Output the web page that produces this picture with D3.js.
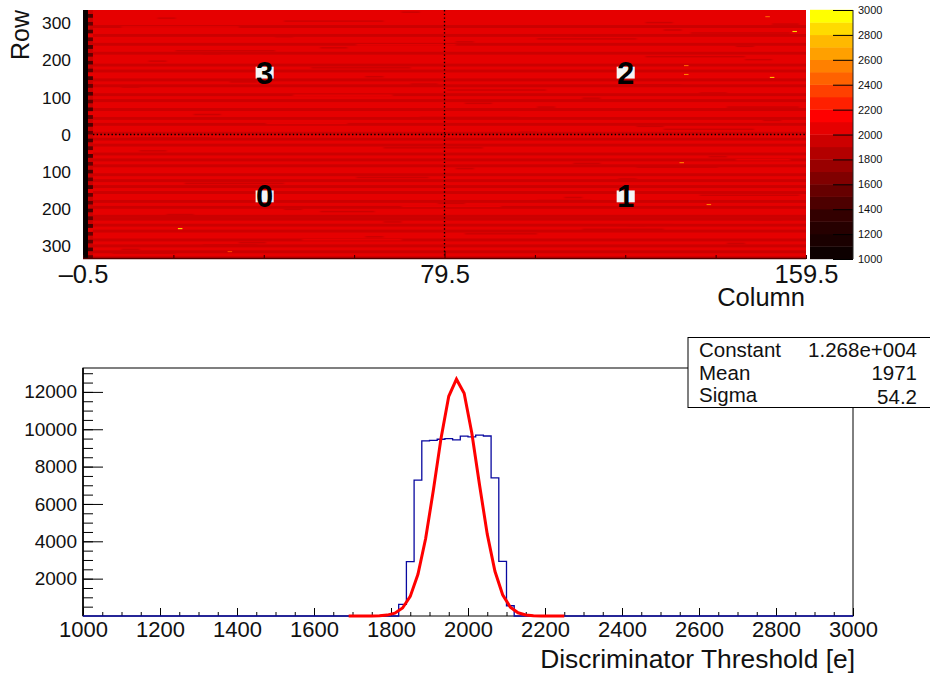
<!DOCTYPE html>
<html>
<head>
<meta charset="utf-8">
<script src="https://cdn.jsdelivr.net/npm/d3@7"></script>
<style>
  body { margin: 0; background: #fff; }
  text { font-family: "Liberation Sans", Arial, sans-serif; fill: #111; }
  .domain { display: none; }
</style>
</head>
<body>
<div id="chart"></div>
<script>
// threshold map: one value per 8 row band, bottom to top
const rowValues = [
  1960, 2010, 1940, 2040, 1980, 2020, 1930, 2060, 2000, 1950, 2030, 1970,
  2050, 1990, 1920, 2020, 2070, 1960, 2010, 1940, 2040, 2000, 1970, 2060,
  1930, 2020, 1990, 2050, 1950, 2030, 2010, 1960, 2070, 1980, 2040, 1930,
  2020, 2000, 1950, 2060, 1990, 2030, 1960, 2050, 2010, 1940, 2080, 1980,
  2030, 2000, 1950, 2060, 2020, 1970, 2040, 1930, 2070, 2010, 1990, 2050,
  1960, 2030, 2090, 1980, 2020, 1950, 2060, 2000, 2040, 1970, 2080, 2010,
  1950, 2050, 2030, 1990, 2070, 2020, 1960, 2060, 2040, 2010, 2050, 2050
];

// darker and brighter streaks seen across the map: first col, last col, row, value
const streaks = [
  [6, 20, -322, 1920], [26, 38, -300, 1930], [48, 70, -286, 2050], [84, 100, -270, 1910],
  [110, 128, -258, 1920], [130, 150, -240, 2060], [12, 30, -226, 1930], [52, 64, -210, 1920],
  [70, 92, -196, 2050], [100, 112, -180, 1910], [136, 158, -166, 1920], [4, 16, -150, 2050],
  [22, 44, -134, 1920], [60, 76, -118, 1930], [90, 116, -102, 2060], [122, 140, -90, 1920],
  [144, 156, -70, 2050], [30, 54, -54, 1910], [66, 88, -38, 1930], [104, 120, -22, 2050],
  [10, 28, -12, 1920], [128, 148, 12, 1930], [40, 58, 28, 2050], [74, 96, 44, 1920],
  [112, 134, 58, 2060], [142, 158, 72, 1910], [16, 36, 88, 1930], [46, 68, 104, 2050],
  [80, 102, 118, 1920], [118, 132, 132, 1910], [136, 152, 146, 1930], [6, 24, 162, 2050],
  [50, 72, 178, 1920], [90, 106, 194, 2050], [124, 146, 208, 1920], [20, 42, 224, 1930],
  [60, 82, 240, 2060], [100, 122, 256, 1920], [134, 156, 272, 1910], [8, 34, 288, 2060],
  [44, 66, 304, 1930], [76, 98, 318, 2060], [112, 130, 326, 2050],
  [8, 12, -312, 1905], [34, 40, -294, 1910], [62, 66, -278, 1905], [94, 100, -262, 1910],
  [120, 124, -248, 1905], [148, 154, -232, 1910], [18, 24, -218, 1905], [44, 48, -204, 1910],
  [78, 84, -188, 1905], [106, 110, -172, 1910], [130, 136, -158, 1905], [152, 156, -144, 1910],
  [28, 32, -126, 1905], [54, 60, -110, 1910], [82, 86, -94, 1905], [108, 114, -80, 1910],
  [138, 142, -62, 1905], [12, 18, -46, 1910], [40, 44, -30, 1905], [70, 76, -14, 1910],
  [96, 100, 4, 1905], [122, 128, 20, 1910], [150, 154, 36, 1905], [24, 30, 52, 1910],
  [56, 60, 66, 1905], [84, 90, 82, 1910], [110, 114, 96, 1905], [136, 142, 110, 1910],
  [8, 12, 126, 1905], [32, 38, 140, 1910], [62, 66, 154, 1905], [94, 100, 170, 1910],
  [116, 120, 186, 1905], [146, 152, 200, 1910], [26, 30, 216, 1905], [52, 58, 232, 1910],
  [82, 86, 248, 1905], [108, 114, 264, 1910], [128, 132, 280, 1905], [152, 158, 296, 1910],
  [16, 20, 312, 1905], [70, 74, 328, 1910], [124, 130, 300, 1905], [42, 46, 262, 1910],
  [144, 148, 236, 1905], [14, 18, 196, 1910], [72, 78, 134, 1905], [100, 104, 72, 1910],
  [48, 52, -72, 1905], [118, 122, -122, 1910], [66, 70, -238, 1905], [142, 146, -296, 1910]
];

// striped column next to the dead one, 64 stripes bottom to top
const edgeValues = [
  1500, 1980, 1450, 1990, 1500, 1960, 1520, 2000, 1480, 1970, 1500, 1990, 1460, 1980, 1520, 1960,
  1500, 2000, 1470, 1980, 1510, 1970, 1490, 1990, 1500, 1960, 1460, 2000, 1520, 1980, 1480, 1970,
  1500, 1990, 1470, 1960, 1510, 2000, 1490, 1980, 1500, 1970, 1460, 1990, 1520, 1960, 1480, 2000,
  1500, 1980, 1470, 1970, 1510, 1990, 1490, 1960, 1500, 2000, 1460, 1980, 1520, 1970, 1480, 1990
];

// noisy single pixels: col, row, value
const hotPixels = [
  [21, -254, 2800], [32, -316, 2300], [151, 318, 2400], [157, 278, 2800], [152, 154, 2700],
  [133, 186, 2400], [133, 162, 2500], [132, -76, 2500], [138, -189, 2500]
];

// chip labels: name, col, row
const chips = [
  ["3", 39.7, 167], ["2", 119.6, 167], ["0", 39.7, -167], ["1", 119.6, -167]
];

const palette = [
  "#0d0000", "#1a0000", "#260000", "#330000", "#4d0000", "#660000", "#800000", "#990000", "#b30000", "#cc0000",
  "#e60000", "#ff0000", "#ff2000", "#ff4000", "#ff6200", "#ff8000", "#ffa000", "#ffb900", "#ffdb00", "#ffff00"
];

const colTicks = [-0.5, 19.5, 39.5, 59.5, 79.5, 99.5, 119.5, 139.5, 159.5];
const colLabels = [-0.5, 79.5, 159.5];
const rowTicks = [-300, -200, -100, 0, 100, 200, 300];
const barTicks = [1000, 1200, 1400, 1600, 1800, 2000, 2200, 2400, 2600, 2800, 3000];

// threshold distribution, 20 wide bins from 1000 to 3000
const histCounts = [
  0, 0, 0, 0, 0, 0, 0, 0, 0, 0, 0, 0, 0, 0, 0, 0, 0, 0, 0, 0,
  0, 0, 0, 0, 0, 0, 0, 0, 0, 0, 0, 0, 0, 0, 0, 0, 0, 0, 0, 0,
  0, 620, 2910, 7280, 9373, 9400, 9465, 9500, 9430, 9630, 9595, 9685, 9640, 7400, 2930, 550, 0, 0, 0, 0,
  0, 0, 0, 0, 0, 0, 0, 0, 0, 0, 0, 0, 0, 0, 0, 0, 0, 0, 0, 0,
  0, 0, 0, 0, 0, 0, 0, 0, 0, 0, 0, 0, 0, 0, 0, 0, 0, 0, 0, 0
];

// fitted curve as drawn
const fitX = [
  1690, 1710, 1730, 1750, 1770, 1790, 1810, 1830, 1850, 1870, 1890, 1910, 1930, 1950,
  1970, 1990, 2010, 2030, 2050, 2070, 2090, 2110, 2130, 2150, 2170, 2190, 2210, 2230, 2250
];
const fitY = [
  0, 0, 1, 3, 13, 48, 154, 430, 1051, 2235, 4149, 6733, 9525, 11766,
  12680, 11924, 9786, 7015, 4384, 2392, 1137, 473, 172, 55, 15, 3, 1, 0, 0
];

const histXTicks = [1000, 1200, 1400, 1600, 1800, 2000, 2200, 2400, 2600, 2800, 3000];
const histYTicks = [2000, 4000, 6000, 8000, 10000, 12000];

const statNames = ["Constant", "Mean", "Sigma"];
const statValues = ["1.268e+004", "1971", "54.2"];

const svg =
    d3.select("#chart")
      .append("svg")
      .attr("width", 930)
      .attr("height", 677)
      .style("display", "block");

// ---- map ----
const colX =
    d3.scaleLinear()
      .domain([-0.5, 159.5])
      .range([83, 806]);

const rowY =
    d3.scaleLinear()
      .domain([-336, 336])
      .range([259, 10]);

const color =
    d3.scaleQuantize()
      .domain([1000, 3000])
      .range(palette);

const defs = svg.append("defs");

defs.append("filter")
    .attr("id", "soft")
    .attr("color-interpolation-filters", "sRGB")
    .append("feGaussianBlur")
    .attr("stdDeviation", "1 0.7");

defs.append("clipPath")
    .attr("id", "mapClip")
    .append("rect")
    .attr("x", 83)
    .attr("y", 10)
    .attr("width", 723)
    .attr("height", 249);

const cells =
    svg.append("g")
       .attr("clip-path", "url(#mapClip)")
       .append("g")
       .attr("filter", "url(#soft)");

// backing so the anti-aliased band edges do not let the white page through
cells.append("rect")
     .attr("x", colX(-3))
     .attr("width", colX(163) - colX(-3))
     .attr("y", 0)
     .attr("height", 270)
     .attr("fill", color(2000));

cells.selectAll("rect.band")
     .data(rowValues)
     .enter()
     .append("rect")
     .attr("class", "band")
     .attr("x", colX(-3))
     .attr("width", colX(163) - colX(-3))
     .attr("y", (d, i) => rowY(-336 + 8 * (i + 1)) - 0.2)
     .attr("height", rowY(-336) - rowY(-328) + 0.4)
     .attr("fill", d => color(d));

cells.selectAll("rect.streak")
     .data(streaks)
     .enter()
     .append("rect")
     .attr("class", "streak")
     .attr("x", d => colX(d[0]))
     .attr("width", d => colX(d[1]) - colX(d[0]))
     .attr("y", d => rowY(d[2] + 4))
     .attr("height", rowY(0) - rowY(4))
     .attr("fill", d => color(d[3]));

const edges = svg.append("g").attr("clip-path", "url(#mapClip)");

edges.selectAll("rect")
     .data(edgeValues)
     .enter()
     .append("rect")
     .attr("x", colX(0.6))
     .attr("width", colX(1.7) - colX(0.6))
     .attr("y", (d, i) => rowY(-336 + 10.5 * (i + 1)))
     .attr("height", rowY(0) - rowY(10.5))
     .attr("fill", d => color(d));

edges.append("rect")
     .attr("x", colX(-0.5))
     .attr("width", colX(0.6) - colX(-0.5))
     .attr("y", 10)
     .attr("height", 249)
     .attr("fill", "#080000");

svg.append("g")
   .selectAll("rect")
   .data(hotPixels)
   .enter()
   .append("rect")
   .attr("x", d => colX(d[0] - 0.5))
   .attr("width", colX(1) - colX(0))
   .attr("y", d => rowY(d[1] + 1.5))
   .attr("height", rowY(0) - rowY(3))
   .attr("fill", d => color(d[2]));

const chip =
    svg.append("g")
       .selectAll("g")
       .data(chips)
       .enter()
       .append("g");

chip.append("rect")
    .attr("x", d => colX(d[1] - 2))
    .attr("width", colX(2) - colX(-2))
    .attr("y", d => rowY(d[2] + 16))
    .attr("height", rowY(0) - rowY(32))
    .attr("fill", "#f4f4f4");

chip.append("text")
    .attr("x", d => colX(d[1]))
    .attr("y", d => rowY(d[2]) + 11)
    .attr("text-anchor", "middle")
    .attr("font-size", 31)
    .attr("font-weight", "bold")
    .style("fill", "#000")
    .text(d => d[0]);

svg.append("line")
   .attr("x1", 93)
   .attr("x2", 806)
   .attr("y1", rowY(0))
   .attr("y2", rowY(0))
   .attr("stroke", "#000")
   .attr("stroke-width", 1.3)
   .attr("stroke-dasharray", "1.4,2.3");

svg.append("line")
   .attr("x1", colX(79.5))
   .attr("x2", colX(79.5))
   .attr("y1", 10)
   .attr("y2", 259)
   .attr("stroke", "#000")
   .attr("stroke-width", 1.3)
   .attr("stroke-dasharray", "1.4,2.3");

const colAxis =
    svg.append("g")
       .attr("transform", "translate(0,259)")
       .call(
           d3.axisBottom(colX)
             .tickValues(colTicks)
             .tickSizeInner(-4)
             .tickSizeOuter(0)
             .tickPadding(6)
             .tickFormat(d => colLabels.includes(d) ? String(d).replace("-", "\u2013") : "")
       );

colAxis.selectAll("line").attr("stroke", "#300000");
colAxis.selectAll("text").attr("font-size", 25.5);
colAxis.selectAll(".tick")
       .filter(d => d === 79.5)
       .select("line")
       .attr("y2", -8);

svg.append("line")
   .attr("x1", 83)
   .attr("x2", 806)
   .attr("y1", 258.5)
   .attr("y2", 258.5)
   .attr("stroke", "#550000")
   .attr("stroke-width", 1.6);

const rowAxis =
    svg.append("g")
       .attr("transform", "translate(83,0)")
       .call(
           d3.axisLeft(rowY)
             .tickValues(rowTicks)
             .tickSize(0)
             .tickPadding(12)
             .tickFormat(d => Math.abs(d))
       );

rowAxis.selectAll("text").attr("font-size", 17.4);

svg.append("text")
   .attr("transform", "translate(29,60) rotate(-90)")
   .attr("font-size", 25)
   .text("Row");

svg.append("text")
   .attr("x", 805)
   .attr("y", 306)
   .attr("text-anchor", "end")
   .attr("font-size", 25.5)
   .text("Column");

// ---- colour bar ----
const barY =
    d3.scaleLinear()
      .domain([1000, 3000])
      .range([259, 10]);

svg.append("g")
   .selectAll("rect")
   .data(palette)
   .enter()
   .append("rect")
   .attr("x", 810)
   .attr("width", 43)
   .attr("y", (d, i) => barY(1000 + 100 * (i + 1)) - 0.2)
   .attr("height", barY(1000) - barY(1100) + 0.4)
   .attr("fill", d => d);

const barAxis =
    svg.append("g")
       .attr("transform", "translate(853,0)")
       .call(
           d3.axisRight(barY)
             .tickValues(barTicks)
             .tickSizeInner(-20)
             .tickSizeOuter(0)
             .tickPadding(5)
             .tickFormat(d => d)
       );

barAxis.selectAll("text").attr("font-size", 11);
barAxis.selectAll("line").attr("stroke", "#000");

svg.append("line")
   .attr("x1", 853)
   .attr("x2", 853)
   .attr("y1", 10)
   .attr("y2", 259)
   .attr("stroke", "#222")
   .attr("stroke-width", 1);

// ---- histogram ----
const histX =
    d3.scaleLinear()
      .domain([1000, 3000])
      .range([83, 853]);

const histY =
    d3.scaleLinear()
      .domain([0, 13280])
      .range([616, 368]);

svg.append("rect")
   .attr("x", 83)
   .attr("y", 368)
   .attr("width", 770)
   .attr("height", 248)
   .attr("fill", "none")
   .attr("stroke", "#000")
   .attr("stroke-width", 1);

svg.append("g")
   .attr("transform", "translate(0,616)")
   .call(
       d3.axisBottom(histX)
         .tickValues(d3.range(1000, 3001, 50))
         .tickSizeInner(-4)
         .tickSizeOuter(0)
         .tickFormat("")
   );

const histXAxis =
    svg.append("g")
       .attr("transform", "translate(0,616)")
       .call(
           d3.axisBottom(histX)
             .tickValues(histXTicks)
             .tickSizeInner(-8)
             .tickSizeOuter(0)
             .tickPadding(5)
             .tickFormat(d => d)
       );

histXAxis.selectAll("text").attr("font-size", 22);

svg.append("g")
   .attr("transform", "translate(83,0)")
   .call(
       d3.axisLeft(histY)
         .tickValues(d3.range(500, 13001, 500))
         .tickSizeInner(-10)
         .tickSizeOuter(0)
         .tickFormat("")
   );

const histYAxis =
    svg.append("g")
       .attr("transform", "translate(83,0)")
       .call(
           d3.axisLeft(histY)
             .tickValues(histYTicks)
             .tickSizeInner(-20)
             .tickSizeOuter(0)
             .tickPadding(6)
             .tickFormat(d => d)
       );

histYAxis.selectAll("text").attr("font-size", 19);

svg.append("line")
   .attr("x1", 83)
   .attr("x2", 83)
   .attr("y1", 368)
   .attr("y2", 616)
   .attr("stroke", "#000")
   .attr("stroke-width", 1.6);

const histPoints = histCounts.map((c, i) => [1000 + 20 * i, c]);
histPoints.push([3000, 0]);

svg.append("path")
   .datum(histPoints)
   .attr("fill", "none")
   .attr("stroke", "#0808a0")
   .attr("stroke-width", 1.3)
   .attr(
       "d",
       d3.line()
         .x(d => histX(d[0]))
         .y(d => histY(d[1]))
         .curve(d3.curveStepAfter)
   );

svg.append("path")
   .datum(fitX.map((x, i) => [x, fitY[i]]))
   .attr("fill", "none")
   .attr("stroke", "#ff0000")
   .attr("stroke-width", 3)
   .attr(
       "d",
       d3.line()
         .x(d => histX(d[0]))
         .y(d => histY(d[1]))
   );

svg.append("text")
   .attr("x", 855)
   .attr("y", 668)
   .attr("text-anchor", "end")
   .attr("font-size", 26.4)
   .text("Discriminator Threshold [e]");

// ---- fit box ----
svg.append("rect")
   .attr("x", 688)
   .attr("y", 337.5)
   .attr("width", 250)
   .attr("height", 70)
   .attr("fill", "#fff")
   .attr("stroke", "#000")
   .attr("stroke-width", 1);

const statBase = [357, 380, 402];
const statValueBase = [357, 380, 404];

svg.append("g")
   .selectAll("text")
   .data(statNames)
   .enter()
   .append("text")
   .attr("x", 699)
   .attr("y", (d, i) => statBase[i])
   .attr("font-size", 20.5)
   .text(d => d);

svg.append("g")
   .selectAll("text")
   .data(statValues)
   .enter()
   .append("text")
   .attr("x", 917)
   .attr("y", (d, i) => statValueBase[i])
   .attr("text-anchor", "end")
   .attr("font-size", 20.5)
   .text(d => d);
</script>
</body>
</html>
